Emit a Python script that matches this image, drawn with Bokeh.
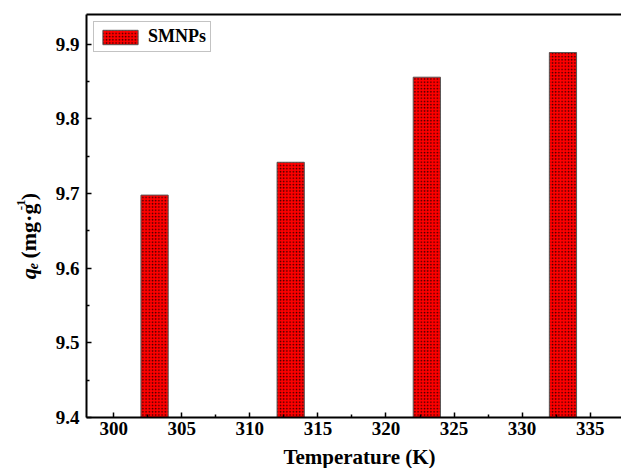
import math
from bokeh.plotting import figure
from bokeh.layouts import column, row
from bokeh.models import (ColumnDataSource, Range1d, LinearAxis, FixedTicker,
                          Legend, LegendItem)
from bokeh.core.properties import value
from bokeh.embed import file_html
from bokeh.resources import INLINE

# Adsorption capacity of SMNPs at each temperature
temperature = [303, 313, 323, 333]
qe = [9.698, 9.742, 9.856, 9.889]
series_name = "SMNPs"
x_title = "Temperature (K)"

x_ticks = [300, 305, 310, 315, 320, 325, 330, 335]
y_ticks = [9.4, 9.5, 9.6, 9.7, 9.8, 9.9]

FONT = "Liberation Serif"
W, H = 621, 468
YLAB_W = 48          # strip holding the rotated y title
MAIN_H = 443         # main plot height; the x title sits in a strip below


def blank_strip(w, h):
    f = figure(width=w, height=h, output_backend="svg", toolbar_location=None,
               title=None,
               x_range=Range1d(0, w), y_range=Range1d(0, h),
               x_axis_location=None, y_axis_location=None,
               min_border=0, outline_line_color=None)
    f.grid.grid_line_color = None
    f.background_fill_color = "white"
    f.border_fill_color = "white"
    return f


# ---- main plot ----
p_main = figure(width=W - YLAB_W, height=MAIN_H, output_backend="svg",
                toolbar_location=None, title=None,
                x_range=Range1d(298.0, 337.3), y_range=Range1d(9.4, 9.94),
                min_border_left=86 - YLAB_W, min_border_right=0,
                min_border_top=14, min_border_bottom=MAIN_H - 417)
p_main.background_fill_color = "white"
p_main.border_fill_color = "white"
p_main.outline_line_color = None
p_main.grid.grid_line_color = None

src = ColumnDataSource(dict(x=temperature, top=qe))
bars = p_main.vbar(x="x", top="top", bottom=9.4, width=2.0, source=src,
                   fill_color="#ff0000", line_color="#555555", line_width=1,
                   hatch_pattern="dot", hatch_color="#3a0000", hatch_scale=3.2,
                   hatch_weight=2.0)

for ax in (p_main.xaxis[0], p_main.yaxis[0]):
    ax.axis_line_width = 2
    ax.axis_line_color = "black"
    ax.major_tick_in = 5
    ax.major_tick_out = 0
    ax.minor_tick_in = 3
    ax.minor_tick_out = 0
    ax.major_tick_line_width = 1.5
    ax.minor_tick_line_width = 1.5
    ax.major_label_text_font = FONT
    ax.major_label_text_font_style = "bold"
    ax.major_label_text_font_size = "19px"
    ax.major_label_text_color = "black"

p_main.xaxis.ticker = FixedTicker(ticks=x_ticks,
                                  minor_ticks=[t + 2.5 for t in x_ticks] + [297.5])
p_main.yaxis.ticker = FixedTicker(ticks=y_ticks,
                                  minor_ticks=[round(t + 0.05, 2) for t in y_ticks])
p_main.xaxis.major_label_standoff = 4
p_main.yaxis.major_label_standoff = 7

# top frame line
top = LinearAxis(ticker=FixedTicker(ticks=[]), axis_line_width=2,
                 major_label_text_font_size="0px", major_tick_in=0,
                 major_tick_out=0, minor_tick_in=0, minor_tick_out=0)
p_main.add_layout(top, "above")

legend = Legend(items=[LegendItem(label=series_name, renderers=[bars])],
                location="top_left", margin=7, padding=4, spacing=0,
                glyph_width=44, glyph_height=18, label_height=18,
                label_standoff=6, border_line_color="#888888",
                border_line_width=1.5, label_text_font=FONT,
                label_text_font_style="bold", label_text_font_size="18px",
                label_text_color="black")
p_main.add_layout(legend)

# ---- y title strip: q_e (mg·g^-1), rotated, built from styled pieces ----
# (text, style, size px, baseline shift, advance along the title)
ylab = blank_strip(YLAB_W, MAIN_H)
parts = [("q", "bold italic", 22, 0, 11.0),
         ("e", "bold italic", 14, 4, 6.2),
         ("(mg·g", "bold", 22, 0, 53.0),
         ("-1", "bold", 13, -8, 11.0),
         (")", "bold", 22, 0, 7.3)]
ypos = MAIN_H - 291
for i, (txt, style, size, dx, adv) in enumerate(parts):
    if i == 2:
        ypos += 5.5  # word gap before the unit
    ylab.text(x=[28 + dx], y=[ypos], text=[txt], angle=math.pi / 2,
              text_font=value(FONT), text_font_style=style,
              text_font_size=f"{size}px", text_color="black",
              text_align="left", text_baseline="alphabetic")
    ypos += adv

# ---- x title strip ----
xlab_h = H - MAIN_H
xlab = blank_strip(W, xlab_h)
xlab.text(x=[359], y=[xlab_h - 13], text=[x_title], text_font=value(FONT),
          text_font_style="bold", text_font_size="21px", text_color="black",
          text_align="center", text_baseline="middle")

p = column(row(ylab, p_main, spacing=0), xlab, spacing=0)

open("out.html", "w").write(file_html(p, INLINE))
